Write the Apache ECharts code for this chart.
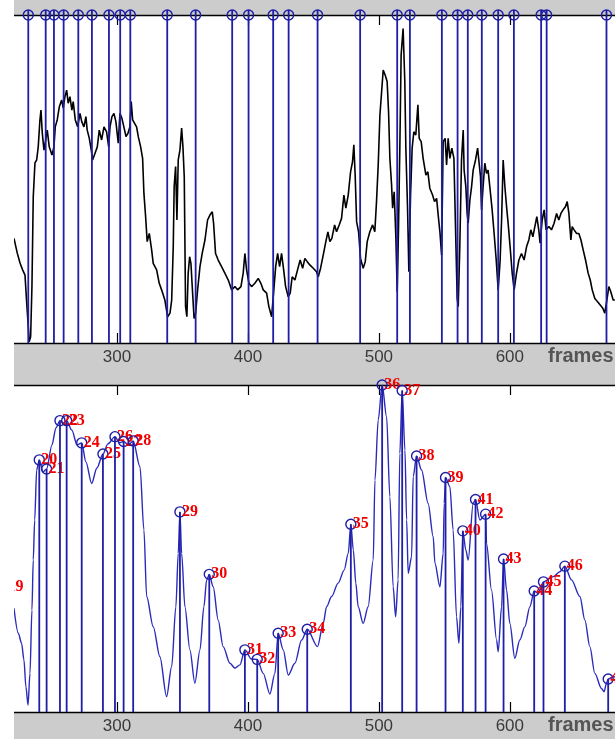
<!DOCTYPE html>
<html><head><meta charset="utf-8">
<script src="https://cdn.jsdelivr.net/npm/echarts@6/dist/echarts.min.js"></script>
<style>html,body{margin:0;padding:0;background:#fff}#c{width:615px;height:739px}</style>
</head><body><div id="c"></div>
<script>
// ---- data (frame, amplitude) ----
const topSignal = [
[221.4,31.9],[223.9,27.4],[226.0,24.4],[228.0,22.3],[229.8,20.7],[231.1,12.2],[232.3,5.0],[233.0,0.4],[234.1,1.9],[235.1,17.2],
[236.1,44.6],[237.4,54.9],[238.7,55.8],[239.9,59.8],[241.2,68.0],[242.0,71.0],[243.0,64.0],[244.3,58.8],[245.6,61.9],[246.8,64.9],
[248.3,59.8],[250.4,57.3],[251.9,59.8],[252.9,65.9],[254.4,68.0],[256.0,72.0],[257.8,74.1],[259.0,71.6],[260.3,75.1],[261.6,77.1],
[262.8,73.1],[264.1,75.1],[265.6,71.0],[266.6,73.6],[268.2,68.0],[270.0,65.9],[271.8,70.0],[273.1,67.5],[274.8,65.9],[276.3,69.0],
[277.3,64.9],[278.9,62.4],[280.4,58.8],[281.4,55.8],[283.2,57.8],[285.0,59.8],[286.5,64.9],[288.3,61.9],[290.1,65.9],[292.1,64.4],
[293.7,59.8],[294.7,65.9],[296.2,69.0],[297.7,70.0],[299.2,67.5],[301.0,60.9],[302.3,70.0],[303.8,68.5],[305.3,65.9],[306.9,62.9],
[308.4,63.9],[309.9,65.9],[310.9,73.6],[312.0,68.0],[313.5,68.0],[315.0,65.9],[316.3,62.9],[318.1,59.8],[319.6,56.3],[320.6,45.6],
[321.9,38.5],[323.1,30.9],[324.7,33.4],[326.5,28.4],[327.7,24.3],[330.3,22.3],[332.3,18.2],[334.1,16.2],[336.6,13.1],[338.7,8.0],
[340.5,9.1],[341.8,13.1],[343.0,29.4],[343.7,47.7],[344.8,53.8],[345.8,37.5],[346.8,55.8],[348.1,58.8],[349.4,65.5],[350.4,59.8],
[351.4,50.7],[352.4,11.1],[353.4,8.0],[354.4,21.3],[355.5,26.3],[356.5,24.3],[357.5,17.2],[358.9,7.5],[360.1,9.1],[361.6,16.2],
[363.4,23.3],[365.1,27.3],[367.2,31.4],[369.2,37.5],[371.0,39.0],[372.8,40.0],[373.8,36.5],[375.3,27.3],[377.3,25.3],[379.9,23.3],
[382.4,21.3],[385.0,19.2],[387.6,16.2],[390.1,17.2],[392.1,16.2],[394.7,17.2],[396.4,21.3],[397.7,27.3],[399.0,22.3],[400.8,18.2],
[402.8,17.2],[405.3,18.2],[407.9,19.7],[409.9,18.2],[411.7,16.2],[414.3,15.2],[416.0,11.1],[418.1,8.0],[419.6,15.2],[421.2,23.3],
[422.7,27.3],[424.2,23.3],[425.7,27.3],[427.3,22.3],[428.8,17.2],[430.8,14.1],[432.3,15.2],[433.8,20.2],[435.9,19.2],[437.9,22.3],
[439.9,25.3],[441.8,22.8],[443.5,25.8],[445.3,24.8],[447.3,23.8],[449.9,22.8],[452.4,21.7],[453.7,20.2],[455.5,22.8],[457.5,26.8],
[459.5,30.9],[461.1,33.9],[462.6,30.9],[464.1,31.9],[466.2,36.0],[467.7,33.9],[469.7,36.0],[471.5,38.0],[473.3,45.1],[474.8,41.1],
[476.6,45.1],[478.4,52.2],[479.9,55.3],[480.9,60.4],[481.9,51.2],[483.0,37.0],[484.5,33.9],[486.0,25.8],[488.0,22.8],[489.6,24.8],
[491.1,30.9],[493.1,33.9],[495.2,36.0],[496.9,33.9],[498.2,43.1],[499.5,54.3],[500.8,69.5],[502.1,76.6],[503.3,83.2],[504.8,81.7],
[506.3,79.7],[507.4,70.5],[508.4,56.3],[509.7,48.2],[510.5,41.1],[511.7,46.1],[513.0,31.9],[514.0,15.6],[515.0,35.0],[516.0,59.4],
[517.0,87.8],[518.5,95.9],[519.8,79.7],[520.6,59.4],[521.9,41.1],[522.9,21.7],[524.2,45.1],[525.4,59.4],[526.7,64.4],[528.2,63.4],
[529.8,72.6],[530.8,62.4],[532.3,61.4],[533.8,56.3],[535.9,51.2],[537.4,52.2],[538.9,47.2],[541.0,45.1],[542.5,43.1],[544.1,44.1],
[545.3,39.0],[546.6,33.9],[547.9,26.8],[549.1,61.4],[550.6,62.4],[551.7,54.3],[552.9,62.4],[554.2,56.3],[555.7,59.4],[557.3,56.3],
[558.6,33.9],[559.8,13.6],[560.6,11.1],[561.8,29.4],[563.1,55.8],[564.4,64.9],[565.1,52.7],[566.4,47.7],[567.4,39.5],[568.2,36.5],
[569.5,43.6],[570.8,47.7],[572.0,52.7],[573.8,55.8],[575.4,59.4],[576.3,55.8],[577.6,50.7],[578.4,40.6],[579.6,47.7],[580.9,54.8],
[582.2,51.7],[583.4,52.7],[584.7,47.7],[586.5,40.6],[588.0,33.4],[589.6,25.3],[591.1,16.2],[592.6,25.3],[593.7,37.5],[594.9,55.8],
[596.2,47.7],[597.5,41.6],[598.7,36.5],[600.2,29.4],[601.8,21.3],[603.3,16.2],[605.1,21.3],[606.9,25.3],[608.9,27.3],[610.9,25.3],
[612.8,29.4],[614.5,31.4],[616.0,34.5],[617.6,32.4],[619.1,35.5],[620.6,38.5],[622.1,34.5],[623.1,30.4],[624.7,37.5],[626.2,40.6],
[627.7,34.5],[629.8,35.5],[631.8,34.5],[633.8,36.5],[635.7,39.5],[637.4,37.5],[639.0,39.5],[640.7,40.6],[642.5,41.6],[643.8,43.1],
[645.1,39.5],[646.6,31.4],[647.6,35.5],[649.1,34.5],[651.0,33.4],[652.7,33.4],[654.3,31.4],[656.0,28.4],[657.8,25.3],[659.8,21.3],
[661.4,19.2],[662.9,16.2],[664.9,13.6],[667.0,12.6],[669.0,11.6],[671.0,10.6],[672.5,9.1],[674.1,13.1],[675.6,17.2],[677.1,15.6],
[678.9,13.1],[680.2,13.1]
];

const boundaryFrames = [232.3,245.6,251.9,259.3,270.5,280.9,293.9,302.5,310.2,338.4,360.1,388.0,400.5,419.3,431.1,453.2,485.7,514.0,523.7,548.1,560.1,567.9,578.6,591.1,603.1,623.9,628.1,673.8];

const smoothSignal = [
[221.4,31.7],[224.7,24.1],[227.2,21.0],[229.0,15.9],[230.5,7.7],[232.1,2.1],[233.6,11.8],[235.1,31.2],[236.1,46.5],[237.2,58.7],
[238.7,74.0],[240.7,77.1],[243.5,73.4],[246.3,74.3],[250.4,81.7],[253.4,86.9],[256.5,89.1],[259.2,88.4],[261.6,89.1],[265.6,86.2],
[269.5,81.7],[273.1,82.3],[276.3,76.5],[280.7,69.9],[284.7,74.6],[289.3,78.9],[293.1,82.0],[298.5,84.2],[301.9,82.3],[305.1,82.7],
[308.8,81.7],[312.4,82.9],[317.6,75.0],[320.6,55.7],[322.7,35.3],[327.7,26.1],[332.8,16.9],[337.9,4.7],[341.8,13.9],[345.0,32.2],
[346.8,48.5],[348.1,61.2],[349.4,48.5],[351.9,32.2],[355.7,19.0],[359.5,8.8],[363.4,19.0],[366.4,32.2],[368.5,40.4],[370.5,42.1],
[373.5,38.3],[377.3,28.1],[381.1,20.0],[386.3,14.9],[390.1,13.4],[393.9,14.4],[397.7,19.0],[402.7,16.2],[407.1,16.1],[411.7,11.8],
[416.8,5.5],[420.6,11.8],[423.1,24.1],[427.0,19.0],[430.8,11.3],[435.9,14.9],[441.0,22.0],[445.3,25.3],[453.2,20.0],[457.5,27.1],
[460.1,32.2],[463.9,35.3],[468.9,39.4],[473.5,43.4],[476.6,48.5],[478.6,57.4],[480.5,49.5],[482.4,39.4],[484.2,32.2],[488.0,27.1],
[491.8,32.2],[495.7,46.5],[497.0,70.9],[499.5,89.3],[502.5,100.0],[505.9,90.3],[508.4,65.8],[510.9,38.3],[512.8,29.1],[514.7,40.4],
[516.0,79.1],[517.8,98.3],[519.9,80.1],[521.2,58.7],[522.4,42.4],[525.0,47.5],[526.2,72.0],[528.8,78.3],[532.6,74.0],[537.6,63.8],
[541.5,53.6],[542.8,45.5],[546.6,38.3],[549.1,48.5],[549.9,63.8],[550.9,71.7],[554.2,68.9],[556.7,55.7],[559.3,29.1],[561.1,21.0],
[562.6,32.2],[564.1,55.4],[566.4,49.5],[568.2,46.5],[572.0,63.8],[573.8,65.0],[577.1,58.7],[581.5,60.5],[582.2,51.6],[586.0,37.3],
[589.9,22.0],[591.1,18.4],[593.7,32.2],[595.2,46.8],[597.5,37.3],[600.0,27.1],[603.8,16.4],[607.6,22.0],[611.5,26.1],[615.3,32.2],
[618.6,37.0],[621.7,36.2],[625.7,39.8],[633.1,41.4],[638.2,42.9],[642.0,44.6],[647.1,40.4],[653.5,35.3],[657.3,28.1],[661.1,20.0],
[664.9,11.8],[670.0,7.2],[672.0,6.2],[673.8,8.8],[675.1,10.1],[678.9,10.8],[680.2,10.7]
];

const peakLabels = ['19','20','21','22','23','24','25','26','27','28','29','30','31','32','33','34','35','36','37','38','39','40','41','42','43','44','45','46','47'];
const peakFrames = [215.0,240.7,246.3,256.5,261.6,273.1,289.3,298.5,305.1,312.4,348.1,370.5,397.7,407.1,423.1,445.3,478.6,502.5,517.8,528.8,550.9,564.1,573.8,581.5,595.2,618.6,625.7,642.0,675.1];
const peakValues = [38.2,77.1,74.3,89.1,89.1,82.3,78.9,84.2,82.7,82.9,61.2,42.1,19.0,16.1,24.1,25.3,57.4,100.0,98.3,78.3,71.7,55.4,65.0,60.5,46.8,37.0,39.8,44.6,10.1];

const tickValues = [300, 400, 500, 600];
const axisTitle = 'frames';

// ---- chart ----
const X_MIN = 221.4, X_MAX = 680.3;
const BLUE = '#1e1ea6';
const chart = echarts.init(document.getElementById('c'), null, {renderer: 'canvas', width: 615, height: 739});

function bottomAxis(gi) {
  return {
    type: 'value', gridIndex: gi, position: 'bottom', min: X_MIN, max: X_MAX,
    axisLine: {show: true, onZero: false, lineStyle: {color: '#000', width: 1.3}},
    axisTick: {show: true, inside: true, length: 10, customValues: tickValues, lineStyle: {color: '#000', width: 1.2}},
    axisLabel: {show: true, customValues: tickValues, margin: 6, color: '#3a3a3a', fontSize: 17, fontFamily: 'Liberation Sans'},
    splitLine: {show: false},
    name: axisTitle, nameLocation: 'end', nameGap: -67,
    nameTextStyle: {color: '#555', fontWeight: 'bold', fontSize: 20, fontFamily: 'Liberation Sans', align: 'left', verticalAlign: 'top', padding: [3, 0, 0, 0]}
  };
}
function topAxis(gi) {
  return {
    type: 'value', gridIndex: gi, position: 'top', min: X_MIN, max: X_MAX,
    axisLine: {show: true, onZero: false, lineStyle: {color: '#000', width: 1.3}},
    axisTick: {show: true, inside: true, length: 10, customValues: tickValues, lineStyle: {color: '#000', width: 1.2}},
    axisLabel: {show: false},
    splitLine: {show: false}
  };
}

const option = {
  animation: false,
  backgroundColor: '#cccccc',
  graphic: [{type: 'rect', left: 0, top: 0, shape: {width: 14, height: 739}, style: {fill: '#ffffff'}, z: 100, zlevel: 1}],
  grid: [
    {left: 14, right: 0, top: 15, height: 328, show: true, backgroundColor: '#ffffff', borderWidth: 0},
    {left: 14, right: 0, top: 385, height: 327, show: true, backgroundColor: '#ffffff', borderWidth: 0}
  ],
  xAxis: [bottomAxis(0), topAxis(0), bottomAxis(1), topAxis(1)],
  yAxis: [
    {type: 'value', gridIndex: 0, min: 0, max: 100, show: false},
    {type: 'value', gridIndex: 1, min: 0, max: 100, show: false}
  ],
  series: [
    {
      type: 'line', xAxisIndex: 0, yAxisIndex: 0, data: topSignal,
      showSymbol: false, symbol: 'none', lineStyle: {color: '#000', width: 1.6}, clip: true, z: 2
    },
    {
      type: 'custom', xAxisIndex: 0, yAxisIndex: 0, clip: false, z: 3,
      data: boundaryFrames.map(f => [f, 100]),
      encode: {x: 0, y: 1},
      renderItem: function (params, api) {
        const f = api.value(0);
        const p0 = api.coord([f, 0]);
        const p1 = api.coord([f, 100]);
        return {
          type: 'group', children: [
            {type: 'line', shape: {x1: p0[0], y1: p0[1], x2: p1[0], y2: p1[1] - 5}, style: {stroke: BLUE, lineWidth: 1.8}},
            {type: 'circle', shape: {cx: p1[0], cy: p1[1], r: 5}, style: {stroke: BLUE, fill: 'none', lineWidth: 1.4}}
          ]
        };
      }
    },
    {
      type: 'line', xAxisIndex: 2, yAxisIndex: 1, data: smoothSignal,
      showSymbol: false, symbol: 'none', smooth: 0.3, smoothMonotone: 'x',
      lineStyle: {color: '#2a2abc', width: 1.4}, clip: true, z: 2
    },
    {
      type: 'custom', xAxisIndex: 2, yAxisIndex: 1, clip: false, z: 4,
      data: peakFrames.map((f, i) => [f, peakValues[i]]),
      encode: {x: 0, y: 1},
      renderItem: function (params, api) {
        const f = api.value(0), v = api.value(1);
        const p0 = api.coord([f, 0]);
        const p1 = api.coord([f, v]);
        return {
          type: 'group', children: [
            {type: 'line', shape: {x1: p0[0], y1: p0[1], x2: p1[0], y2: p1[1]}, style: {stroke: BLUE, lineWidth: 1.8}},
            {type: 'circle', shape: {cx: p1[0], cy: p1[1], r: 5}, style: {stroke: BLUE, fill: 'none', lineWidth: 1.4}},
            {type: 'text', x: p1[0] + 2, y: p1[1], style: {text: peakLabels[params.dataIndex], fill: '#f00000', font: 'bold 16px "Liberation Serif"', align: 'left', verticalAlign: 'middle'}}
          ]
        };
      }
    }
  ]
};
chart.setOption(option);
</script>
</body></html>
